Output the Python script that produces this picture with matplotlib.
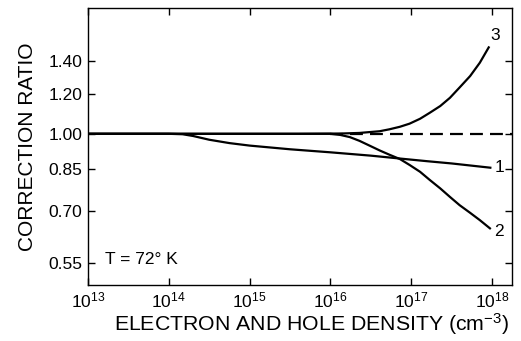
import numpy as np
import matplotlib
matplotlib.use("Agg")
import matplotlib.pyplot as plt

plt.rcParams['font.family'] = ['Liberation Sans', 'DejaVu Sans']
plt.rcParams['mathtext.fontset'] = 'custom'
plt.rcParams['mathtext.rm'] = 'Liberation Sans'
plt.rcParams['mathtext.it'] = 'Liberation Sans:italic'

# densities given as log10(cm^-3)
logn_1 = [13.0, 14.0, 14.17, 14.3, 14.5, 14.75, 15.0, 15.5, 16.0, 16.5, 16.86, 17.2, 17.5, 17.98]
ratio_1 = [1.0, 1.0, 0.998, 0.99, 0.973, 0.958, 0.947, 0.931, 0.918, 0.904, 0.892, 0.881, 0.872, 0.855]

logn_2 = [13.0, 16.0, 16.12, 16.24, 16.36, 16.49, 16.61, 16.73, 16.86, 16.98, 17.11, 17.23,
          17.36, 17.48, 17.6, 17.73, 17.85, 17.975]
ratio_2 = [1.0, 1.0, 0.995, 0.985, 0.968, 0.946, 0.926, 0.908, 0.89, 0.866, 0.839, 0.808,
           0.777, 0.747, 0.719, 0.694, 0.671, 0.646]

logn_3 = [13.0, 15.6, 16.1, 16.36, 16.61, 16.73, 16.86, 16.98, 17.11, 17.23, 17.36, 17.48,
          17.6, 17.73, 17.85, 17.96]
ratio_3 = [1.0, 1.0, 1.001, 1.004, 1.012, 1.021, 1.033, 1.048, 1.072, 1.102, 1.137, 1.181,
           1.239, 1.306, 1.389, 1.491]

yticks = [0.55, 0.70, 0.85, 1.00, 1.20, 1.40]
ytick_labels = ['0.55', '0.70', '0.85', '1.00', '1.20', '1.40']
xticks_exp = [13, 14, 15, 16, 17, 18]

fig = plt.figure(figsize=(5.21, 3.41), dpi=100)
ax = fig.add_axes([0.169, 0.164, 0.814, 0.813])

lw = 1.6
ax.plot(10 ** np.array(logn_1), ratio_1, color='black', lw=lw)
ax.plot(10 ** np.array(logn_2), ratio_2, color='black', lw=lw)
ax.plot(10 ** np.array(logn_3), ratio_3, color='black', lw=lw)
ax.plot([1e16, 10 ** 18.25], [1.0, 1.0], color='black', lw=lw, ls=(0, (5.8, 3.2)))

ax.set_xscale('log')
ax.set_yscale('log')
ax.set_xlim(1e13, 10 ** 18.25)
ax.set_ylim(0.497, 1.79)

ax.set_xticks([10.0 ** e for e in xticks_exp])
ax.set_xticklabels(['$10^{%d}$' % e for e in xticks_exp], fontsize=12.5)
ax.set_yticks(yticks)
ax.set_yticklabels(ytick_labels, fontsize=12.5)
ax.minorticks_off()
ax.tick_params(direction='in', top=True, right=True, length=5, width=1, pad=4)
for s in ax.spines.values():
    s.set_linewidth(1.0)

ax.text(10 ** 18.03, ratio_1[-1], '1', fontsize=12.5, va='center', ha='left')
ax.text(10 ** 18.03, ratio_2[-1] * 0.985, '2', fontsize=12.5, va='center', ha='left')
ax.text(10 ** 17.98, 1.575, '3', fontsize=12.5, va='center', ha='left')
ax.text(10 ** 13.21, 0.56, 'T = 72° K', fontsize=12.5, va='center', ha='left')

ax.set_xlabel('ELECTRON AND HOLE DENSITY (cm$^{-3}$)', fontsize=15.3)
ax.xaxis.set_label_coords(0.528, -0.095)
ax.set_ylabel('CORRECTION RATIO', fontsize=15, labelpad=8)

fig.savefig('out.png', dpi=100)
